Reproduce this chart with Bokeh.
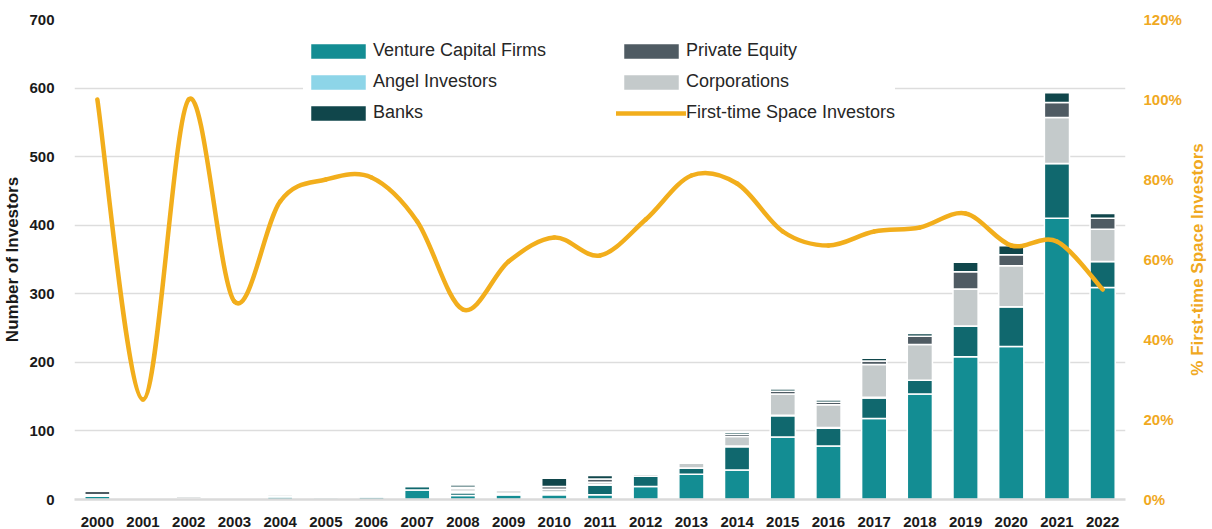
from bokeh.plotting import figure
from bokeh.layouts import row
from bokeh.models import (Range1d, LinearAxis, FixedTicker, NumeralTickFormatter,
                          Legend, LegendItem, ColumnDataSource)
from bokeh.embed import file_html
from bokeh.resources import INLINE

# ---------------- data ----------------
years = list(range(2000, 2023))
vc_firms  = [5, 0, 0, 0, 4, 3, 4, 14, 6, 7, 7, 7, 19, 37, 43, 91, 78, 118, 154, 208, 223, 410, 309]
other_vc  = [0, 0, 0, 0, 0, 0, 0, 5, 4, 0, 2, 14, 15, 9, 34, 31, 26, 30, 20, 45, 58, 80, 38]
angels    = [1, 2, 2, 0, 1, 0, 0, 2, 2, 2, 2, 1, 0, 0, 1, 1, 1, 1, 0, 0, 0, 0, 0]
corps     = [1, 0, 3, 0, 3, 0, 2, 2, 4, 4, 4, 3, 3, 7, 14, 31, 33, 48, 52, 54, 60, 67, 47]
priv_eq   = [5, 0, 0, 0, 0, 0, 0, 1, 2, 1, 4, 5, 0, 0, 3, 4, 4, 5, 12, 25, 16, 22, 16]
banks     = [0, 0, 0, 0, 0, 0, 0, 1, 3, 0, 12, 5, 0, 0, 3, 3, 3, 4, 4, 14, 13, 14, 7]
first_time_pct = [1.00, 0.25, 1.00, 0.495, 0.745, 0.80, 0.805, 0.695, 0.475, 0.595, 0.655,
                  0.61, 0.70, 0.81, 0.79, 0.67, 0.635, 0.67, 0.68, 0.715, 0.635, 0.645, 0.525]
left_ticks = [0, 100, 200, 300, 400, 500, 600, 700]
right_ticks = [0, 0.2, 0.4, 0.6, 0.8, 1.0, 1.2]

C_VC = "#138d93"
C_OTHER = "#10686e"
C_ANGEL = "#8dd5e8"
C_CORP = "#c4cacb"
C_PE = "#4f5b63"
C_BANK = "#10464b"
C_LINE = "#f2ae1c"
C_AX2 = "#f0a91f"
FONT = "Liberation Sans"

p = figure(width=1184, height=529, output_backend="svg", toolbar_location=None,
           x_range=Range1d(1999.5, 2022.5), y_range=Range1d(0, 700),
           min_border_left=74, min_border_right=57, min_border_top=19, min_border_bottom=30,
           outline_line_color=None)
p.extra_y_ranges = {"pct": Range1d(0, 1.2)}

src = ColumnDataSource(dict(year=years, vc=vc_firms, other=other_vc, angel=angels,
                            corp=corps, pe=priv_eq, bank=banks))
stack_keys = ["vc", "other", "angel", "corp", "pe", "bank"]
colors = [C_VC, C_OTHER, C_ANGEL, C_CORP, C_PE, C_BANK]
rs = p.vbar_stack(stack_keys, x="year", width=0.55, color=colors, source=src,
                  line_color="white", line_width=1.5)
r_vc, r_other, r_angel, r_corp, r_pe, r_bank = rs

# smooth line through the data points (Catmull-Rom -> cubic Bezier)
n = len(years)
x0, y0, x1, y1, cx0, cy0, cx1, cy1 = [], [], [], [], [], [], [], []
for i in range(n - 1):
    xp, yp = years[max(i - 1, 0)], first_time_pct[max(i - 1, 0)]
    xa, ya = years[i], first_time_pct[i]
    xb, yb = years[i + 1], first_time_pct[i + 1]
    xn, yn = years[min(i + 2, n - 1)], first_time_pct[min(i + 2, n - 1)]
    x0.append(xa); y0.append(ya); x1.append(xb); y1.append(yb)
    cx0.append(xa + (xb - xp) / 6.0); cy0.append(ya + (yb - yp) / 6.0)
    cx1.append(xb - (xn - xa) / 6.0); cy1.append(yb - (yn - ya) / 6.0)
r_line = p.bezier(x0=x0, y0=y0, x1=x1, y1=y1, cx0=cx0, cy0=cy0, cx1=cx1, cy1=cy1,
                  line_color=C_LINE, line_width=4.5, line_cap="round", y_range_name="pct")

# axes
p.xaxis.ticker = FixedTicker(ticks=years)
p.xaxis.major_label_text_font = FONT
p.xaxis.major_label_text_font_style = "bold"
p.xaxis.major_label_text_font_size = "15px"
p.xaxis.major_label_text_color = "#1a1a1a"
p.xaxis.major_tick_line_color = None
p.xaxis.minor_tick_line_color = None
p.xaxis.axis_line_color = "#dadada"
p.xaxis.axis_line_width = 2.5
p.xaxis.major_label_standoff = 11

ly = p.yaxis[0]
ly.ticker = FixedTicker(ticks=left_ticks)
ly.axis_label = "Number of Investors"
ly.axis_label_text_font = FONT
ly.axis_label_text_font_style = "bold"
ly.axis_label_text_font_size = "17px"
ly.axis_label_text_color = "#1a1a1a"
ly.axis_label_standoff = 4
ly.major_label_text_font = FONT
ly.major_label_text_font_style = "bold"
ly.major_label_text_font_size = "15px"
ly.major_label_text_color = "#1a1a1a"
ly.major_label_standoff = 14
ly.axis_line_color = None
ly.major_tick_line_color = None
ly.minor_tick_line_color = None

ry = LinearAxis(y_range_name="pct", ticker=FixedTicker(ticks=right_ticks),
                formatter=NumeralTickFormatter(format="0%"))
ry.major_label_text_font = FONT
ry.major_label_text_font_style = "bold"
ry.major_label_text_font_size = "15px"
ry.major_label_text_color = C_AX2
ry.major_label_standoff = 12
ry.axis_line_color = None
ry.major_tick_line_color = None
ry.minor_tick_line_color = None
p.add_layout(ry, "right")

p.xgrid.grid_line_color = None
p.ygrid.ticker = FixedTicker(ticks=left_ticks)
p.ygrid.grid_line_color = "#dddddd"
p.ygrid.grid_line_width = 1.5

def make_legend(items, loc, lw):
    leg = Legend(items=items, location=loc, glyph_width=70, glyph_height=20,
                 label_height=16, spacing=10, padding=10, margin=0,
                 label_standoff=0, label_width=lw,
                 border_line_color=None, background_fill_color="white",
                 background_fill_alpha=1.0, label_text_font=FONT,
                 label_text_font_size="18px", label_text_color="#262626")
    return leg

leg1 = make_legend([LegendItem(label="Venture Capital Firms", renderers=[r_vc]),
                    LegendItem(label="Angel Investors", renderers=[r_angel]),
                    LegendItem(label="Banks", renderers=[r_bank])], (229, 376), 260)
leg2 = make_legend([LegendItem(label="Private Equity", renderers=[r_pe]),
                    LegendItem(label="Corporations", renderers=[r_corp]),
                    LegendItem(label="First-time Space Investors", renderers=[r_line])],
                   (542, 376), 20)
p.add_layout(leg1)
p.add_layout(leg2)

# narrow companion panel that carries the right-hand axis title (reads bottom-to-top)
p2 = figure(width=28, height=529, output_backend="svg", toolbar_location=None,
            x_range=Range1d(0, 1), y_range=Range1d(0, 1.2),
            min_border_left=0, min_border_right=0, min_border_top=19, min_border_bottom=30,
            outline_line_color=None, x_axis_location=None)
p2.grid.grid_line_color = None
ay = p2.yaxis[0]
ay.ticker = FixedTicker(ticks=[])
ay.major_label_text_font_size = "0px"
ay.major_label_standoff = 0
ay.major_tick_line_color = None
ay.minor_tick_line_color = None
ay.axis_line_color = None
ay.axis_label = "% First-time Space Investors"
ay.axis_label_text_font = FONT
ay.axis_label_text_font_style = "bold"
ay.axis_label_text_font_size = "17px"
ay.axis_label_text_color = C_AX2
ay.axis_label_standoff = 0

layout = row(p, p2, spacing=0)
open("out.html", "w").write(file_html(layout, INLINE))
